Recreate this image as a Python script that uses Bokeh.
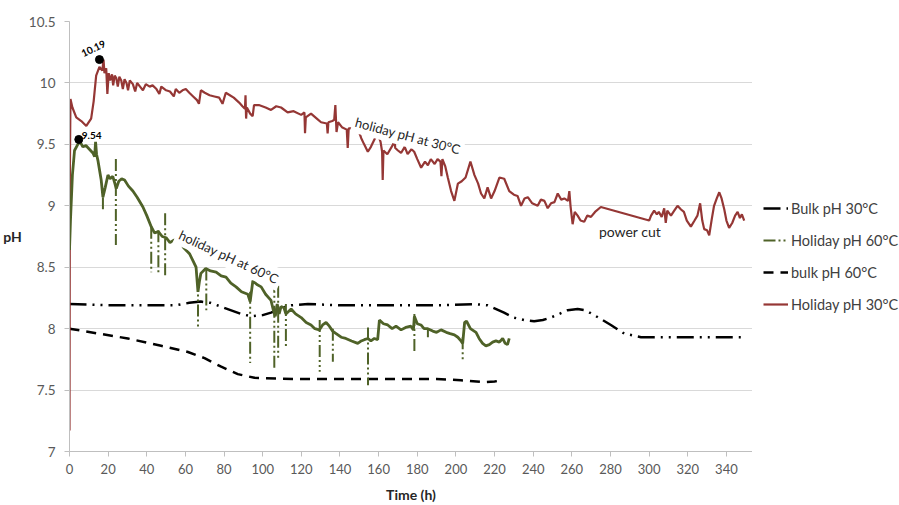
from bokeh.plotting import figure
from bokeh.layouts import row
from bokeh.models import (Range1d, FixedTicker, NumeralTickFormatter, Legend,
                          LegendItem, Label)
from bokeh.embed import file_html
from bokeh.resources import INLINE

# Holiday pH logged at 30 °C (h, pH)
red_time = [0, 0.2, 0.5, 1.5, 3.5, 6.1, 8.7, 11.2, 12.5, 13.8,
            15.5, 17.0, 17.6, 18.1, 19.0, 19.6, 20.3, 21.0, 22.0, 22.6,
            23.4, 24.2, 25.0, 25.8, 26.8, 27.6, 28.5, 29.5, 30.3, 31.2,
            32.8, 34.0, 35.0, 36.5, 38.0, 39.5, 41.5, 43.0, 45.0, 46.5,
            47.5, 50.0, 52.0, 54.0, 55.0, 56.8, 58.5, 60.2, 62.0, 64.0,
            66.0, 67.0, 68.0, 70.0, 72.5, 75.0, 77.5, 79.2, 80.9, 83.0,
            85.0, 87.8, 89.5, 90.8, 91.1, 91.4, 91.8, 93.5, 94.8, 95.5,
            98.0, 101.5, 104.3, 107.0, 109.5, 112.9, 116.0, 119.9, 121.6, 121.9,
            122.3, 125.0, 128.0, 130.2, 133.2, 133.6, 134.0, 136.0, 137.0, 137.6,
            138.2, 139.0, 141.0, 143.5, 144.0, 144.5, 147.0, 149.2, 151.0, 152.5,
            154.4, 156.0, 157.5, 159.5, 161.0, 161.8, 162.1, 162.5, 164.5, 167.5,
            168.1, 168.6, 170.0, 171.6, 173.5, 175.0, 177.0, 178.4, 180.0, 182.0,
            184.0, 185.5, 187.0, 189.0, 190.5, 192.0, 192.5, 193.0, 194.5, 195.8,
            197.5, 199.2, 201.0, 203.0, 205.0, 207.5, 209.6, 211.5, 213.0, 214.7,
            216.4, 218.2, 220.0, 222.5, 225.0, 227.6, 230.0, 231.9, 233.7, 235.5,
            237.2, 239.5, 242.3, 244.0, 245.8, 247.5, 249.2, 251.0, 252.7, 254.5,
            256.1, 258.0, 258.7, 259.3, 260.4, 261.5, 263.0, 264.5, 266.4, 268.0,
            269.9, 272.0, 275.0, 300.0, 301.0, 302.6, 304.0, 305.0, 306.5, 307.8,
            308.6, 309.4, 311.3, 313.0, 314.7, 316.5, 318.0, 319.5, 321.6, 323.5,
            325.0, 326.4, 327.5, 328.5, 330.0, 331.1, 332.5, 333.6, 335.0, 336.3,
            337.5, 338.9, 340.0, 341.4, 343.0, 344.5, 345.8, 347.0, 348.0, 349.2]
red_ph = [7.17, 9.30, 9.87, 9.80, 9.72, 9.69, 9.65, 9.71, 9.85, 10.06,
          10.13, 10.10, 10.19, 10.08, 10.12, 9.91, 10.08, 10.02, 10.07, 9.98,
          10.06, 10.04, 9.97, 10.05, 10.02, 9.95, 10.03, 10.00, 9.94, 10.02,
          9.99, 9.93, 10.00, 9.97, 9.94, 9.99, 9.97, 9.98, 9.95, 9.91,
          9.97, 9.94, 9.93, 9.89, 9.95, 9.92, 9.94, 9.95, 9.92, 9.89,
          9.86, 9.83, 9.94, 9.92, 9.90, 9.89, 9.88, 9.83, 9.92, 9.90,
          9.88, 9.84, 9.81, 9.79, 9.90, 9.71, 9.80, 9.75, 9.73, 9.82,
          9.82, 9.80, 9.78, 9.81, 9.80, 9.76, 9.77, 9.74, 9.76, 9.59,
          9.72, 9.75, 9.71, 9.68, 9.67, 9.59, 9.68, 9.69, 9.70, 9.82,
          9.60, 9.68, 9.64, 9.62, 9.47, 9.63, 9.63, 9.63, 9.55, 9.50,
          9.44, 9.48, 9.53, 9.59, 9.52, 9.44, 9.21, 9.45, 9.42, 9.50,
          9.57, 9.47, 9.45, 9.43, 9.48, 9.42, 9.46, 9.44, 9.38, 9.31,
          9.36, 9.33, 9.38, 9.34, 9.38, 9.36, 9.24, 9.38, 9.32, 9.23,
          9.12, 9.04, 9.18, 9.20, 9.23, 9.36, 9.25, 9.18, 9.10, 9.06,
          9.15, 9.06, 9.12, 9.23, 9.22, 9.12, 9.09, 9.08, 9.00, 9.06,
          9.07, 9.02, 9.00, 9.05, 9.04, 8.98, 9.02, 9.03, 9.10, 9.05,
          9.06, 9.04, 9.12, 9.00, 8.85, 8.95, 8.92, 8.88, 8.87, 8.92,
          8.91, 8.95, 8.99, 8.88, 8.92, 8.96, 8.93, 8.95, 8.91, 8.98,
          8.86, 8.96, 8.92, 8.96, 9.00, 8.97, 8.95, 8.88, 8.83, 8.88,
          8.92, 9.02, 8.88, 8.81, 8.80, 8.76, 8.90, 9.00, 9.06, 9.11,
          9.06, 8.97, 8.88, 8.82, 8.86, 8.92, 8.95, 8.90, 8.93, 8.88]

# Holiday pH logged at 60 °C (h, pH)
green_time = [0, 0.5, 1.5, 2.6, 4.3, 5.5, 6.9, 8.5, 10.3, 12.1,
              13.0, 13.5, 14.0, 14.7, 16.4, 17.3, 18.5, 19.9, 21.0, 22.4,
              23.5, 24.2, 25.5, 27.0, 28.5, 30.5, 32.8, 35.0, 38.0, 40.0,
              42.3, 44.0, 46.0, 48.0, 50.0, 52.0, 54.0, 56.9, 59.0, 62.1,
              64.0, 65.5, 66.5, 67.2, 68.0, 70.5, 73.0, 75.9, 78.5, 81.0,
              83.5, 86.2, 89.0, 92.3, 93.5, 94.9, 97.0, 99.2, 101.5, 104.3,
              105.5, 106.5, 107.5, 108.5, 109.5, 111.0, 112.0, 114.7, 117.0, 119.9,
              122.5, 125.0, 127.0, 129.3, 131.0, 132.8, 134.5, 136.2, 138.0, 140.6,
              143.0, 146.0, 149.2, 151.0, 152.6, 154.5, 156.0, 157.8, 159.5, 160.4,
              162.5, 164.7, 167.0, 169.0, 171.6, 174.0, 176.7, 178.0, 178.5, 180.0,
              181.9, 183.5, 185.4, 188.0, 190.0, 192.3, 195.0, 197.0, 199.2, 201.0,
              202.6, 203.5, 204.5, 205.5, 207.5, 210.4, 212.0, 213.8, 215.5, 217.3,
              219.0, 220.7, 222.5, 224.2, 225.5, 226.7, 227.6]
green_ph = [8.64, 8.88, 9.25, 9.45, 9.50, 9.52, 9.48, 9.49, 9.46, 9.43,
            9.40, 9.52, 9.42, 9.37, 9.21, 9.07, 9.15, 9.25, 9.22, 9.24,
            9.18, 9.14, 9.20, 9.22, 9.21, 9.16, 9.12, 9.07, 8.99, 8.92,
            8.83, 8.78, 8.79, 8.75, 8.74, 8.70, 8.72, 8.72, 8.66, 8.61,
            8.55, 8.50, 8.30, 8.38, 8.45, 8.49, 8.47, 8.46, 8.43, 8.42,
            8.37, 8.34, 8.30, 8.28, 8.22, 8.39, 8.36, 8.34, 8.28, 8.23,
            8.15, 8.10, 8.20, 8.12, 8.18, 8.17, 8.12, 8.16, 8.12, 8.09,
            8.05, 8.03, 8.00, 7.99, 8.03, 8.05, 8.02, 7.98, 7.96, 7.93,
            7.92, 7.90, 7.88, 7.90, 7.91, 7.92, 7.90, 7.92, 7.91, 8.07,
            8.04, 8.03, 8.00, 8.02, 7.99, 8.01, 8.02, 7.99, 8.10, 8.04,
            8.03, 8.00, 8.00, 7.98, 7.97, 7.99, 7.97, 7.96, 7.95, 7.93,
            7.90, 7.88, 8.05, 8.06, 8.00, 7.97, 7.92, 7.88, 7.86, 7.87,
            7.89, 7.90, 7.89, 7.92, 7.88, 7.87, 7.92]

# short probe excursions in the 60 °C record
spike_time = [17.3, 24.0, 42.3, 46.0, 49.5, 66.5, 70.8, 93.5, 106.0,
              108.0, 112.0, 129.5, 136.3, 154.5, 178.5, 185.5, 203.5]
spike_top = [9.07, 9.38, 8.83, 8.80, 8.94, 8.40, 8.49, 8.30, 8.39,
             8.35, 8.20, 8.07, 8.00, 8.01, 8.12, 8.00, 7.93]
spike_bottom = [8.95, 8.68, 8.46, 8.46, 8.43, 8.01, 8.15, 7.72, 7.68,
                7.75, 7.85, 7.65, 7.73, 7.54, 7.80, 7.93, 7.73]

# Bulk pH at 30 °C
bulk30_time = [0, 20, 40, 55, 62, 68, 73, 80, 88.8, 94, 100, 104.3, 110,
               114.7, 123.4, 140.6, 157.8, 175, 192.3, 209.5, 216.4, 224.9,
               230, 235.3, 240.5, 245, 249.2, 257.8, 263, 267, 271.6, 280.2,
               287.1, 295.8, 310, 330, 348.4]
bulk30_ph = [8.20, 8.19, 8.19, 8.19, 8.21, 8.22, 8.21, 8.17, 8.12, 8.10, 8.11,
             8.13, 8.17, 8.19, 8.20, 8.19, 8.19, 8.19, 8.19, 8.20, 8.19, 8.13,
             8.09, 8.07, 8.06, 8.07, 8.09, 8.15, 8.16, 8.15, 8.11, 8.03,
             7.96, 7.93, 7.93, 7.93, 7.93]

# Bulk pH at 60 °C
bulk60_time = [0, 15, 30.2, 47.4, 61.3, 69.9, 78.5, 87.1, 95.7, 116.4,
               140, 168.1, 190, 202.6, 214.7, 220, 224.2]
bulk60_ph = [8.00, 7.96, 7.92, 7.86, 7.81, 7.76, 7.69, 7.63, 7.60, 7.59,
             7.59, 7.59, 7.59, 7.58, 7.565, 7.57, 7.58]

# marked maxima
peak_time = [15.5, 4.8]
peak_ph = [10.19, 9.54]
peak_text = ["10.19", "9.54"]

series_names = ["Bulk pH 30°C", "Holiday pH 60°C", "bulk pH 60°C",
                "Holiday pH 30°C"]

x_ticks = list(range(0, 341, 20))
y_ticks = [7, 7.5, 8, 8.5, 9, 9.5, 10, 10.5]

FONT = "Lato"
RED = "#953735"
GREEN = "#4F6228"
NAN = float("nan")

# line styles shared by the chart and its key
styles = {
    "bulk30": dict(line_color="black", line_width=2.5, line_dash="17 6 2 6 2 6"),
    "hol60": dict(line_color=GREEN, line_width=2, line_dash="12 3 2 3 2 3"),
    "bulk60": dict(line_color="black", line_width=2.5, line_dash="10 7"),
    "hol30": dict(line_color=RED, line_width=2.2),
}

p = figure(width=752, height=505, x_range=Range1d(0, 353.5),
           y_range=Range1d(7, 10.5), output_backend="svg",
           toolbar_location=None, min_border_left=68, min_border_right=0,
           min_border_top=21, min_border_bottom=54,
           outline_line_color=None, background_fill_color="white",
           border_fill_color="white")

p.xgrid.visible = False
p.ygrid.grid_line_color = "#d9d9d9"
p.ygrid.grid_line_width = 1

p.xaxis.ticker = FixedTicker(ticks=x_ticks)
p.yaxis.ticker = FixedTicker(ticks=y_ticks)
p.yaxis.formatter = NumeralTickFormatter(format="0.[0]")
for ax in (p.xaxis[0], p.yaxis[0]):
    ax.axis_line_color = "#bfbfbf"
    ax.major_tick_line_color = "#bfbfbf"
    ax.major_tick_out = 5
    ax.major_tick_in = 0
    ax.minor_tick_line_color = None
    ax.major_label_text_font = FONT
    ax.major_label_text_font_size = "13px"
    ax.major_label_text_color = "#595959"
    ax.axis_label_text_font = FONT
    ax.axis_label_text_font_style = "bold"
    ax.axis_label_text_font_size = "14px"
    ax.axis_label_text_color = "#262626"
p.yaxis.major_label_text_font_size = "13.5px"
p.yaxis.major_label_standoff = 9
p.xaxis.major_label_standoff = 7
p.xaxis.axis_label = "Time (h)"
p.xaxis.axis_label_standoff = 9
p.yaxis.axis_label = "pH"
p.yaxis.axis_label_orientation = "horizontal"
p.yaxis.axis_label_standoff = 4

p.line(bulk60_time, bulk60_ph, **styles["bulk60"])
p.line(bulk30_time, bulk30_ph, **styles["bulk30"])
p.line(red_time, red_ph, **styles["hol30"])
p.segment(x0=spike_time, y0=spike_top, x1=spike_time, y1=spike_bottom,
          **styles["hol60"])
p.line(green_time, green_ph, line_color=GREEN, line_width=2.8)

p.scatter(peak_time, peak_ph, size=8, color="black")

# value labels of the two maxima
p.add_layout(Label(x=peak_time[0], y=peak_ph[0], text=peak_text[0],
                   x_offset=-6, y_offset=11, angle=0.45,
                   text_align="center", text_baseline="middle",
                   text_font=FONT, text_font_size="10px",
                   text_font_style="bold", text_color="black"))
p.add_layout(Label(x=peak_time[1], y=peak_ph[1], text=peak_text[1],
                   x_offset=3, y_offset=4, text_align="left",
                   text_baseline="middle", text_font=FONT,
                   text_font_size="10px", text_font_style="bold",
                   text_color="black"))

# curve annotations
p.add_layout(Label(x=146.6, y=9.69, text="holiday pH at 30°C", angle=-0.262,
                   text_align="left", text_baseline="alphabetic",
                   text_font=FONT, text_font_size="13px", text_color="#262626",
                   background_fill_color="white", padding=3))
p.add_layout(Label(x=55.7, y=8.78, text="holiday pH at 60°C", angle=-0.436,
                   text_align="left", text_baseline="alphabetic",
                   text_font=FONT, text_font_size="13px", text_color="#262626",
                   background_fill_color="white", padding=3))
p.add_layout(Label(x=274, y=8.79, text="power cut", text_align="left",
                   text_baseline="alphabetic", text_font=FONT,
                   text_font_size="14px", text_color="#262626"))

# key panel to the right of the chart
k = figure(width=147, height=505, x_range=Range1d(0, 1), y_range=Range1d(0, 1),
           output_backend="svg", toolbar_location=None,
           x_axis_location=None, y_axis_location=None,
           min_border_left=0, min_border_right=0, min_border_top=0,
           min_border_bottom=0, outline_line_color=None,
           background_fill_color="white", border_fill_color="white")
k.xgrid.visible = False
k.ygrid.visible = False
key_renderers = [k.line([NAN, NAN], [NAN, NAN], **styles[s])
                 for s in ("bulk30", "hol60", "bulk60", "hol30")]
legend = Legend(items=[LegendItem(label=n, renderers=[r])
                       for n, r in zip(series_names, key_renderers)],
                location=(11, 137))
legend.glyph_width = 25
legend.glyph_height = 20
legend.label_height = 20
legend.spacing = 12
legend.label_standoff = 3
legend.padding = 0
legend.margin = 0
legend.border_line_color = None
legend.background_fill_alpha = 0
legend.label_text_font = FONT
legend.label_text_font_size = "14.5px"
legend.label_text_color = "#404040"
k.add_layout(legend, "center")

layout = row(p, k, spacing=0)
open("out.html", "w").write(file_html(layout, INLINE))
